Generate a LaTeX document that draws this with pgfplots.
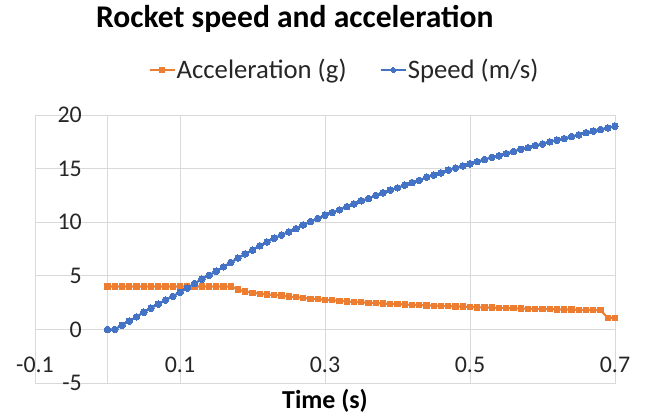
\documentclass[border=0pt]{standalone}
\usepackage{pgfplots}
\usepackage{pgfplotstable}
\pgfplotsset{compat=1.18}
\usepackage{fontspec}
\setmainfont{Carlito}
\definecolor{xlorange}{HTML}{ED7D31}
\definecolor{xlblue}{HTML}{4472C4}
\definecolor{xlgrid}{HTML}{D9D9D9}
\definecolor{xltext}{HTML}{262626}

\pgfplotstableread{
t a
0.00 4.00
0.01 4.00
0.02 4.00
0.03 4.00
0.04 4.00
0.05 4.00
0.06 4.00
0.07 4.00
0.08 4.00
0.09 4.00
0.10 4.00
0.11 4.00
0.12 4.00
0.13 4.00
0.14 4.00
0.15 4.00
0.16 4.00
0.17 4.00
0.18 3.73
0.19 3.52
0.20 3.42
0.21 3.33
0.22 3.27
0.23 3.21
0.24 3.15
0.25 3.06
0.26 3.00
0.27 2.94
0.28 2.86
0.29 2.82
0.30 2.76
0.31 2.72
0.32 2.67
0.33 2.61
0.34 2.56
0.35 2.53
0.36 2.48
0.37 2.45
0.38 2.42
0.39 2.38
0.40 2.36
0.41 2.33
0.42 2.29
0.43 2.27
0.44 2.24
0.45 2.21
0.46 2.19
0.47 2.17
0.48 2.15
0.49 2.12
0.50 2.09
0.51 2.06
0.52 2.05
0.53 2.03
0.54 2.00
0.55 1.99
0.56 1.97
0.57 1.95
0.58 1.93
0.59 1.92
0.60 1.91
0.61 1.89
0.62 1.87
0.63 1.86
0.64 1.85
0.65 1.83
0.66 1.81
0.67 1.80
0.68 1.79
0.69 1.09
0.70 1.09
}\acctable

\pgfplotstableread{
t v
0.00 0
0.01 0
0.02 0.38
0.03 0.78
0.04 1.17
0.05 1.60
0.06 1.98
0.07 2.36
0.08 2.74
0.09 3.08
0.10 3.46
0.11 3.86
0.12 4.28
0.13 4.68
0.14 5.04
0.15 5.42
0.16 5.83
0.17 6.24
0.18 6.65
0.19 7.05
0.20 7.40
0.21 7.80
0.22 8.15
0.23 8.50
0.24 8.80
0.25 9.10
0.26 9.40
0.27 9.75
0.28 10.05
0.29 10.35
0.30 10.65
0.31 10.90
0.32 11.15
0.33 11.45
0.34 11.70
0.35 12.00
0.36 12.20
0.37 12.50
0.38 12.75
0.39 13.00
0.40 13.20
0.41 13.45
0.42 13.70
0.43 13.90
0.44 14.20
0.45 14.40
0.46 14.60
0.47 14.85
0.48 15.05
0.49 15.25
0.50 15.45
0.51 15.65
0.52 15.85
0.53 16.05
0.54 16.20
0.55 16.40
0.56 16.60
0.57 16.80
0.58 16.95
0.59 17.15
0.60 17.30
0.61 17.50
0.62 17.65
0.63 17.80
0.64 18.00
0.65 18.15
0.66 18.35
0.67 18.50
0.68 18.65
0.69 18.80
0.70 18.95
}\speedtable

\begin{document}
\begin{tikzpicture}
\useasboundingbox (0,0) rectangle (646bp,419bp);
\begin{axis}[
  at={(35bp,36bp)}, anchor=south west,
  scale only axis, width=580bp, height=268bp,
  xmin=-0.1, xmax=0.7, ymin=-5, ymax=20,
  xtick={-0.1,0.1,0.3,0.5,0.7},
  xticklabels={-0.1,0.1,0.3,0.5,0.7},
  ytick={-5,0,5,10,15,20},
  yticklabels={-5,0,5,10,15,20},
  extra x ticks={0}, extra x tick labels={},
  extra x tick style={grid=major},
  major tick length=0pt,
  grid=major,
  grid style={xlgrid, line width=0.9bp},
  axis line style={xlgrid, line width=0.9bp},
  ticklabel style={font=\fontsize{24}{28}\selectfont, text=xltext},
  xticklabel style={anchor=center, yshift=18bp},
  yticklabel style={anchor=east, inner sep=0pt, xshift=47bp},
  title={Rocket speed and acceleration},
  title style={font=\bfseries\fontsize{31.7}{36}\selectfont, text=black, at={(axis description cs:0.4481,1.3049)}, anchor=base, inner sep=0pt},
  xlabel={Time (s)},
  xlabel style={font=\bfseries\fontsize{26}{30}\selectfont, text=black, at={(axis description cs:0.5,0)}, anchor=base, yshift=-25.3bp, inner sep=0pt},
  legend columns=2,
  legend style={at={(0.1953,1.168)}, anchor=west, draw=none, fill=none, inner sep=0pt,
    font=\fontsize{26.8}{30}\selectfont, text=xltext,
    /tikz/every even column/.append style={column sep=32bp},
    nodes={inner sep=1bp}},
  legend image code/.code={\draw[#1, line width=1.4bp, mark=none] (0bp,0bp) -- (25bp,0bp);
    \draw[#1, mark size=2.5bp, mark repeat=2, mark phase=2] plot coordinates {(0bp,0bp) (12.5bp,0bp) (25bp,0bp)};},
]
\addplot[xlorange, line width=2.2bp, mark=square*, mark size=2.7bp, mark options={solid, fill=xlorange, draw=xlorange, line width=0pt}] table[x=t,y=a] {\acctable};
\addlegendentry{Acceleration (g)}
\addplot[xlblue, line width=2.2bp, mark=*, mark size=3.3bp, mark options={solid, fill=xlblue, draw=xlblue, line width=0pt}] table[x=t,y=v] {\speedtable};
\addlegendentry{Speed (m/s)}
\end{axis}
\end{tikzpicture}
\end{document}
